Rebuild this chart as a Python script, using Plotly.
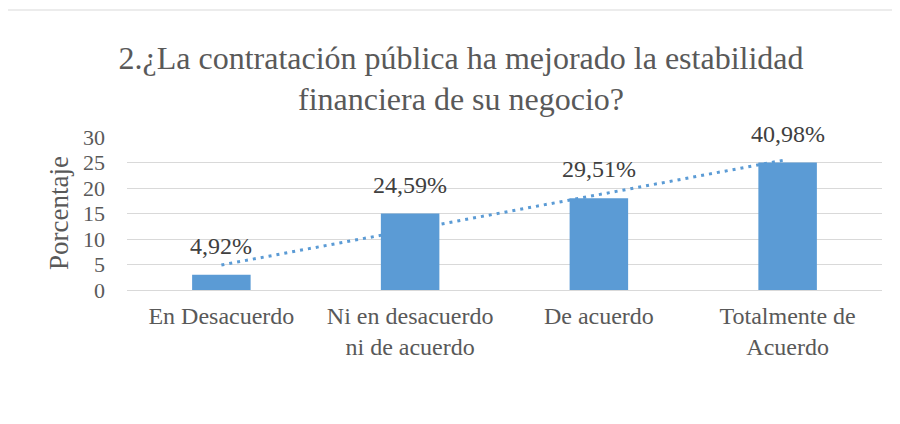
import plotly.graph_objects as go

categories = ["En Desacuerdo", "Ni en desacuerdo<br>ni de acuerdo", "De acuerdo", "Totalmente de<br>Acuerdo"]
values = [3, 15, 18, 25]
labels = ["4,92%", "24,59%", "29,51%", "40,98%"]
y_ticks = [0, 5, 10, 15, 20, 25, 30]

# linear trendline (least squares) over category index
n = len(values)
xs = list(range(1, n + 1))
mx = sum(xs) / n
my = sum(values) / n
slope = sum((x - mx) * (y - my) for x, y in zip(xs, values)) / sum((x - mx) ** 2 for x in xs)
trend = [my + slope * (x - mx) for x in xs]

FONT = "Liberation Serif, serif"
BAR = "#5b9bd5"
GRID = "#d9d9d9"
OFF = 8  # page body margin

fig = go.Figure()
fig.add_trace(go.Scatter(x=categories, y=trend, mode="lines",
                         line=dict(color=BAR, width=3, dash="3px,5px"),
                         xaxis="x", yaxis="y", showlegend=False, hoverinfo="skip"))
fig.add_trace(go.Bar(x=categories, y=values, marker=dict(color=BAR, line=dict(width=0)),
                     xaxis="x2", yaxis="y2", showlegend=False))

for c, v, t in zip(categories, values, labels):
    fig.add_annotation(x=c, y=v, xref="x2", yref="y2", text=t, showarrow=False,
                       yanchor="bottom", yshift=14,
                       font=dict(family=FONT, size=24, color="#404040"))

W, H = 900, 424
L = 127 - OFF
T = 137 - OFF
R = W - (882 - OFF)
B = H - (290 - OFF)
pw = W - L - R
ph = H - T - B

def px(xp):
    return (xp - OFF - L) / pw

def py(yp):
    return (H - B - (yp - OFF)) / ph

fig.add_shape(type="line", xref="paper", yref="paper", x0=px(6), x1=px(6), y0=py(440), y1=py(10),
              line=dict(color=GRID, width=1))
fig.add_shape(type="line", xref="paper", yref="paper", x0=px(6), x1=px(920), y0=py(10), y1=py(10),
              line=dict(color=GRID, width=1))

# y tick labels placed on the y axis scale, right-aligned with a 20px gap
for v in y_ticks:
    fig.add_annotation(x=px(107), y=v, xref="paper", yref="y", text=str(v), showarrow=False,
                       xanchor="right", yanchor="middle",
                       font=dict(family=FONT, size=22, color="#595959"))

# y-axis title as rotated annotation
fig.add_annotation(x=px(59), y=py(213), xref="paper", yref="paper", text="Porcentaje",
                   textangle=-90, showarrow=False, xanchor="center", yanchor="middle",
                   font=dict(family=FONT, size=27, color="#595959"))

fig.update_layout(
    width=W, height=H,
    margin=dict(l=L, r=R, t=T, b=B, autoexpand=False),
    paper_bgcolor="white", plot_bgcolor="white",
    font=dict(family=FONT, color="#595959"),
    bargap=0.69,
    title=dict(text="2.¿La contratación pública ha mejorado la estabilidad<br>financiera de su negocio?",
               x=px(461), xref="paper", xanchor="center",
               y=1 - (68.5 - OFF) / H, yref="container", yanchor="middle",
               font=dict(family=FONT, size=32, color="#595959")),
    xaxis=dict(type="category", categoryorder="array", categoryarray=categories,
               showgrid=False, showline=True, linecolor=GRID, linewidth=1,
               ticks="outside", ticklen=4, tickcolor="rgba(0,0,0,0)",
               tickfont=dict(family=FONT, size=24, color="#595959")),
    yaxis=dict(range=[0, 30], tickvals=y_ticks, showgrid=True, gridcolor=GRID, gridwidth=1,
               zeroline=False, showline=False, ticks="", showticklabels=False),
    xaxis2=dict(type="category", categoryorder="array", categoryarray=categories,
                overlaying="x", visible=False, matches="x"),
    yaxis2=dict(range=[0, 30], overlaying="y", visible=False),
)

fig.write_html("out.html")
